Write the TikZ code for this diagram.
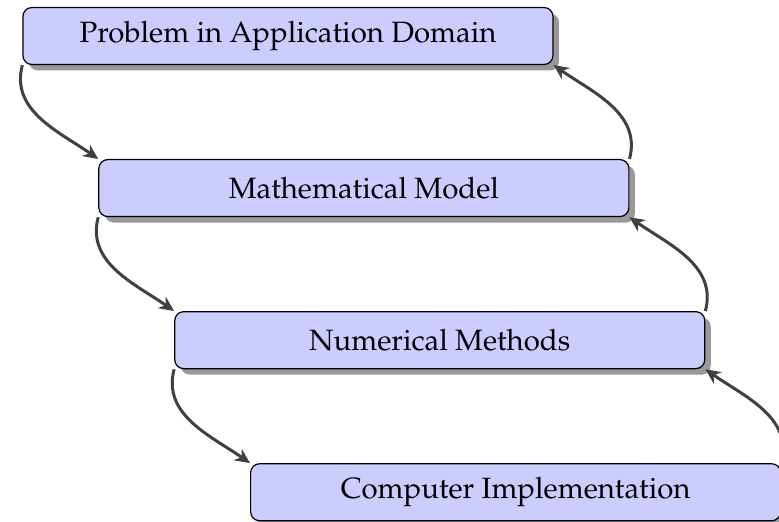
\documentclass[tikz,border=0pt]{standalone}
\IfFileExists{mathpazo.sty}
  {\usepackage[T1]{fontenc}\usepackage{mathpazo}}
  {\usepackage{fontspec}\setmainfont{Liberation Serif}}
\usepackage{xcolor}
\usepackage{tikz}
\usetikzlibrary{arrows.meta,positioning,shadows}

\begin{document}
\begin{tikzpicture}[
  caja/.style={draw=black, fill=blue!20, rounded corners=3pt, thin,
               minimum width=176.7pt, minimum height=19pt, inner sep=2pt,
               font=\fontsize{9.8}{12}\selectfont,
               drop shadow={fill=black!40, opacity=1,
                            shadow xshift=2pt, shadow yshift=-2pt}},
  flecha/.style={-{Stealth[length=5pt, width=4.6pt, inset=1.6pt]},
                 line width=1pt, draw=black!75},
]
  \useasboundingbox (0,0) rectangle (259.7pt,-174pt);

  \node[caja] at (96pt,-12pt)
    (problema) {Problem in Application Domain};
  \node[caja, below=31.3pt of problema, xshift=25.3pt]
    (modelo) {Mathematical Model};
  \node[caja, below=31.3pt of modelo, xshift=25.3pt]
    (metodos) {Numerical Methods};
  \node[caja, below=31.3pt of metodos, xshift=25.3pt]
    (implementacion) {Computer Implementation};

  % hacia abajo (izquierda)
  \draw[flecha] (problema.south west) to[out=255, in=145] (modelo.north west);
  \draw[flecha] (modelo.south west)   to[out=255, in=145] (metodos.north west);
  \draw[flecha] (metodos.south west)  to[out=255, in=145] (implementacion.north west);

  % hacia arriba (derecha)
  \draw[flecha] (modelo.north east)         to[out=75, in=-35] (problema.south east);
  \draw[flecha] (metodos.north east)        to[out=75, in=-35] (modelo.south east);
  \draw[flecha] (implementacion.north east) to[out=75, in=-35] (metodos.south east);
\end{tikzpicture}
\end{document}
